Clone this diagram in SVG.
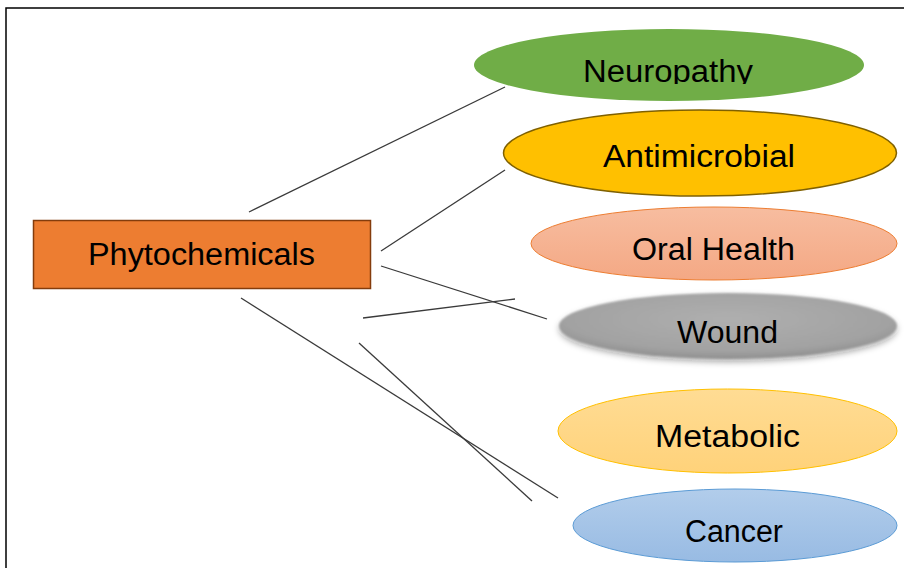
<svg xmlns="http://www.w3.org/2000/svg" width="904" height="568" viewBox="0 0 904 568">
<style>
  .lbl { font-family: "Liberation Sans", Arial, sans-serif; font-size: 31px; fill: #000; text-anchor: middle; }
  .conn { stroke: #3a3a3a; stroke-width: 1.3; fill: none; }
</style>
<defs>
  <linearGradient id="gOral" x1="0" y1="0" x2="0" y2="1">
    <stop offset="0" stop-color="#F7BDA0"/>
    <stop offset="1" stop-color="#F4A884"/>
  </linearGradient>
  <linearGradient id="gMeta" x1="0" y1="0" x2="0" y2="1">
    <stop offset="0" stop-color="#FFDC94"/>
    <stop offset="1" stop-color="#FFD27A"/>
  </linearGradient>
  <linearGradient id="gCancer" x1="0" y1="0" x2="0" y2="1">
    <stop offset="0" stop-color="#B2CDEB"/>
    <stop offset="1" stop-color="#98BBE3"/>
  </linearGradient>
  <radialGradient id="gWound" cx="0.5" cy="0.4" r="0.6">
    <stop offset="0" stop-color="#AFAFAF"/>
    <stop offset="0.8" stop-color="#A2A2A2"/>
    <stop offset="1" stop-color="#8F8F8F"/>
  </radialGradient>
  <filter id="soft" x="-10%" y="-30%" width="120%" height="170%">
    <feGaussianBlur in="SourceAlpha" stdDeviation="3"/>
    <feOffset dy="3" result="b"/>
    <feFlood flood-color="#000" flood-opacity="0.35"/>
    <feComposite in2="b" operator="in" result="sh"/>
    <feGaussianBlur in="SourceGraphic" stdDeviation="1.2" result="s"/>
    <feMerge><feMergeNode in="sh"/><feMergeNode in="s"/></feMerge>
  </filter>
  <clipPath id="clipNeuro"><rect x="0" y="0" width="904" height="84"/></clipPath>
</defs>

<path d="M6,568 V8 H904" fill="none" stroke="#000" stroke-width="1.5"/>

<g id="connectors">
  <line class="conn" x1="249" y1="212" x2="505" y2="87"/>
  <line class="conn" x1="381" y1="251" x2="505" y2="170"/>
  <line class="conn" x1="381" y1="266" x2="547" y2="319"/>
  <line class="conn" x1="363" y1="318" x2="515" y2="299"/>
  <line class="conn" x1="241" y1="298" x2="558" y2="498"/>
  <line class="conn" x1="359" y1="343" x2="532" y2="501"/>
</g>

<g id="phytochemicals">
  <rect x="33.5" y="220.5" width="337" height="68" fill="#ED7D31" stroke="#843C0C" stroke-width="1.5"/>
  <text class="lbl" x="201.5" y="265" textLength="227" lengthAdjust="spacingAndGlyphs">Phytochemicals</text>
</g>

<g id="neuropathy">
  <ellipse cx="669" cy="65" rx="195" ry="36" fill="#70AD47"/>
  <text class="lbl" x="668" y="82" textLength="170" lengthAdjust="spacingAndGlyphs" clip-path="url(#clipNeuro)">Neuropathy</text>
</g>

<g id="antimicrobial">
  <ellipse cx="700" cy="153" rx="196.5" ry="43" fill="#FFC000" stroke="#7F6000" stroke-width="1.5"/>
  <text class="lbl" x="699" y="167" textLength="192" lengthAdjust="spacingAndGlyphs">Antimicrobial</text>
</g>

<g id="oral-health">
  <ellipse cx="714" cy="243.5" rx="183" ry="36.5" fill="url(#gOral)" stroke="#ED7D31" stroke-width="1"/>
  <text class="lbl" x="713.5" y="260" textLength="163" lengthAdjust="spacingAndGlyphs">Oral Health</text>
</g>

<g id="wound">
  <ellipse cx="728" cy="326" rx="169" ry="33" fill="url(#gWound)" filter="url(#soft)"/>
  <text class="lbl" x="727.5" y="343" textLength="101" lengthAdjust="spacingAndGlyphs">Wound</text>
</g>

<g id="metabolic">
  <ellipse cx="727.5" cy="431" rx="169.5" ry="42" fill="url(#gMeta)" stroke="#FFC000" stroke-width="1"/>
  <text class="lbl" x="727.5" y="447" textLength="145" lengthAdjust="spacingAndGlyphs">Metabolic</text>
</g>

<g id="cancer">
  <ellipse cx="735" cy="525.5" rx="162" ry="36.5" fill="url(#gCancer)" stroke="#5B9BD5" stroke-width="1"/>
  <text class="lbl" x="734" y="542" textLength="98" lengthAdjust="spacingAndGlyphs">Cancer</text>
</g>
</svg>
